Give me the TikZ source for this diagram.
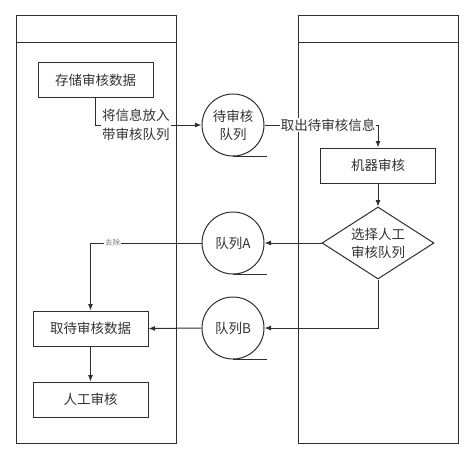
\documentclass[tikz,border=0pt]{standalone}
\usepackage{fontspec}
\setmainfont{Noto Sans CJK SC}
\usetikzlibrary{shapes.geometric,arrows.meta}
\definecolor{ln}{HTML}{2E2E2E}
\definecolor{tx}{HTML}{333333}
\begin{document}
\begin{tikzpicture}[x=1pt,y=-1pt,
  every node/.style={font=\fontsize{13.5}{18}\selectfont,text=tx},
  line/.style={draw=ln,line width=1pt},
  arr/.style={line,-{Latex[length=6.5pt,width=5pt]}},
  procbox/.style={line,rectangle,minimum width=115pt,minimum height=35pt,inner sep=0pt},
  queue/.style={line,circle,minimum size=62pt,inner sep=0pt,align=center},
  choice/.style={line,diamond,minimum width=112pt,minimum height=72pt,inner sep=0pt,align=center,aspect=1.55},
  lbl/.style={fill=white,inner sep=1pt,align=left,font=\fontsize{13.5}{19}\selectfont}]
\useasboundingbox (0,0) rectangle (474,459);
% pools
\draw[line] (16,15) rectangle (176,443);
\draw[line] (16,42) -- (176,42);
\draw[line] (298,15) rectangle (458,443);
\draw[line] (298,42) -- (458,42);
% nodes
\node[procbox] (store) at (95.5,80) {存储审核数据};
\node[queue] (q1) at (233,125) {待审核\\队列};
\node[procbox] (machine) at (378,165.5) {机器审核};
\node[choice] (sel) at (378,243) {选择人工\\审核队列};
\node[queue] (qa) at (233,243) {队列A};
\node[queue] (qb) at (233,328) {队列B};
\node[procbox] (fetch) at (90.5,328.5) {取待审核数据};
\node[procbox] (manual) at (90.5,399.5) {人工审核};
% queue tails
\draw[line] (q1.south) -- ++(34,0);
\draw[line] (qa.south) -- ++(34,0);
\draw[line] (qb.south) -- ++(34,0);
% connectors
\draw[arr] (store.south) |- (q1.west)
  node[lbl,pos=0.69] {将信息放入\\带审核队列};
\draw[arr] (q1.east) -| (machine.north)
  node[lbl,pos=0.28,fill=white] {取出待审核信息};
\draw[arr] (machine) -- (sel);
\draw[arr] (sel.west) -- (qa.east);
\draw[arr] (sel.south) |- (qb.east);
\draw[arr] (qb.west) -- (fetch.east);
\draw[arr] (qa.west) -| (fetch.north)
  node[pos=0.4,fill=white,inner sep=1pt,font=\fontsize{7.5}{9}\selectfont,text=gray] {去除};
\draw[arr] (fetch) -- (manual);
\end{tikzpicture}
\end{document}
